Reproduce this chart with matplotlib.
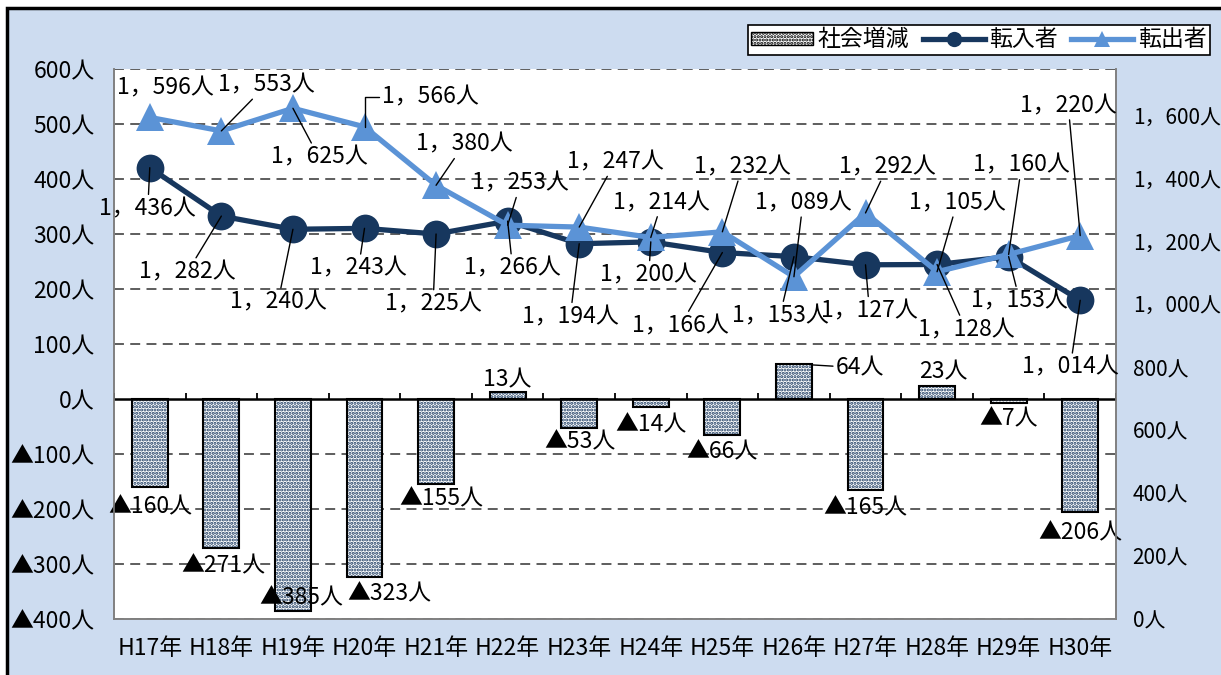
import numpy as np
import matplotlib.pyplot as plt
from matplotlib.patches import Rectangle, Patch
from matplotlib.lines import Line2D

plt.rcParams['font.family'] = ['Noto Sans CJK JP', 'DejaVu Sans']
plt.rcParams['hatch.linewidth'] = 1.5

# data
years = ['H17年', 'H18年', 'H19年', 'H20年', 'H21年', 'H22年', 'H23年',
         'H24年', 'H25年', 'H26年', 'H27年', 'H28年', 'H29年', 'H30年']
tennyu = [1436, 1282, 1240, 1243, 1225, 1266, 1194, 1200, 1166, 1153, 1127, 1128, 1153, 1014]
tenshutsu = [1596, 1553, 1625, 1566, 1380, 1253, 1247, 1214, 1232, 1089, 1292, 1105, 1160, 1220]
zougen = [-160, -271, -385, -323, -155, 13, -53, -14, -66, 64, -165, 23, -7, -206]

left_ticks = list(range(-400, 601, 100))
right_ticks = list(range(0, 1601, 200))

# label offsets in pixels (dx, dy up) from the data point
out_off = [(16, 29), (45, 46), (26, -49), (66, 30), (28, 41), (13, 42), (36, 65),
           (11, 35), (20, 65), (9, 74), (22, 46), (20, 69), (13, 89), (-12, 130)]
out_lead = [False] + [True] * 13
in_off = [(-2, -41), (-34, -56), (-15, -73), (-6, -40), (-3, -70), (5, -47), (-9, -73),
          (-2, -33), (-42, -73), (-14, -59), (4, -46), (29, -65), (11, -44), (-10, -67)]
bar_off = [(1, -20), (2, -18), (8, 13), (25, -17), (5, -15), (0, 12), (1, -14),
           (0, -18), (0, -17), (66, -4), (0, -18), (6, 14), (0, -16), (0, -21)]

navy = '#17375e'
light = '#5b93d6'
bg = '#cddcf0'
fs = 16.5


def fmt(v):
    s = f'{abs(v):,}'.replace(',', '，') + '人'
    return '▲' + s if v < 0 else s


fig = plt.figure(figsize=(12.21, 6.75), dpi=100)
fig.patch.set_facecolor('white')
frame = Rectangle((7 / 1221, -0.1), 1.2, 1.1 - 8 / 675, transform=fig.transFigure,
                  facecolor=bg, edgecolor='black', linewidth=2.5, zorder=-10)
fig.patches.append(frame)

ax = fig.add_axes([114 / 1221, 56 / 675, 1002 / 1221, 550 / 675])
ax.set_facecolor('white')
x = np.arange(len(years))

ax.set_xlim(-0.5, len(years) - 0.5)
ax.set_ylim(-400, 600)
ax.set_yticks(left_ticks)
ax.set_yticklabels([fmt(t) for t in left_ticks], fontsize=fs)
ax.set_xticks(x)
ax.set_xticklabels(years, fontsize=fs)
ax.tick_params(axis='x', length=0, pad=13)
ax.tick_params(axis='y', length=0, pad=14)

for t in left_ticks:
    if t != 0:
        ax.axhline(t, color='#505050', lw=1.3, dashes=(5.5, 3.5), zorder=1)
ax.axhline(0, color='black', lw=1.8, zorder=4)
ax.vlines(np.arange(-0.5, len(years)), 0, 11, color='black', lw=1.3, zorder=4)

for side in ['left', 'right', 'bottom']:
    ax.spines[side].set_color('#808080')
    ax.spines[side].set_linewidth(1.2)
ax.spines['top'].set_visible(False)

ax.bar(x, zougen, width=0.5, color='white', edgecolor=navy, hatch='.....', linewidth=0, zorder=2)
ax.bar(x, zougen, width=0.5, fill=False, edgecolor='black', linewidth=1.5, zorder=3)

for i, v in enumerate(zougen):
    props = None
    if v == 64:
        props = dict(arrowstyle='-', color='black', lw=1.0, shrinkA=0, shrinkB=13)
    ax.annotate(fmt(v), xy=(i, v), xytext=bar_off[i], textcoords='offset pixels',
                ha='center', va='center', fontsize=fs, arrowprops=props, zorder=5)

ax2 = ax.twinx()
ax2.set_ylim(0, 1750)
ax2.set_yticks(right_ticks)
ax2.set_yticklabels([fmt(t) for t in right_ticks], fontsize=15)
ax2.tick_params(axis='y', length=0, pad=12)
for side in ['left', 'right', 'bottom']:
    ax2.spines[side].set_color('#808080')
    ax2.spines[side].set_linewidth(1.2)
ax2.spines['top'].set_visible(False)

ax2.plot(x, tennyu, color=navy, lw=3.8, marker='o', ms=20, mew=0, zorder=3)
ax2.plot(x, tenshutsu, color=light, lw=3.8, marker='^', ms=19.5, mew=0, zorder=4)

for i, v in enumerate(tenshutsu):
    props = None
    if out_lead[i]:
        props = dict(arrowstyle='-', color='black', lw=1.0, shrinkA=0, shrinkB=0)
        if i == 3:
            props['connectionstyle'] = 'angle,angleA=0,angleB=90,rad=0'
    ax2.annotate(fmt(v), xy=(i, v), xytext=out_off[i], textcoords='offset pixels',
                 ha='center', va='center', fontsize=fs, arrowprops=props, zorder=6)

for i, v in enumerate(tennyu):
    props = dict(arrowstyle='-', color='black', lw=1.0, shrinkA=0, shrinkB=0)
    ax2.annotate(fmt(v), xy=(i, v), xytext=in_off[i], textcoords='offset pixels',
                 ha='center', va='center', fontsize=fs, arrowprops=props, zorder=6)

handles = [Patch(facecolor='white', edgecolor='black', hatch='.....', linewidth=1.0),
           Line2D([], [], color=navy, lw=3.8, marker='o', ms=11, mew=0),
           Line2D([], [], color=light, lw=3.8, marker='^', ms=11, mew=0)]
leg = fig.legend(handles, ['社会増減', '転入者', '転出者'], loc='upper right',
                 bbox_to_anchor=(1210 / 1221, 1 - 25 / 675), ncol=3, fontsize=fs,
                 frameon=True, fancybox=False, edgecolor='black', framealpha=1,
                 handlelength=2.7, handleheight=0.5, columnspacing=0.6,
                 handletextpad=0.2, borderpad=0.15, borderaxespad=0)
leg.get_frame().set_linewidth(1.2)

fig.savefig('out.png', dpi=100)
